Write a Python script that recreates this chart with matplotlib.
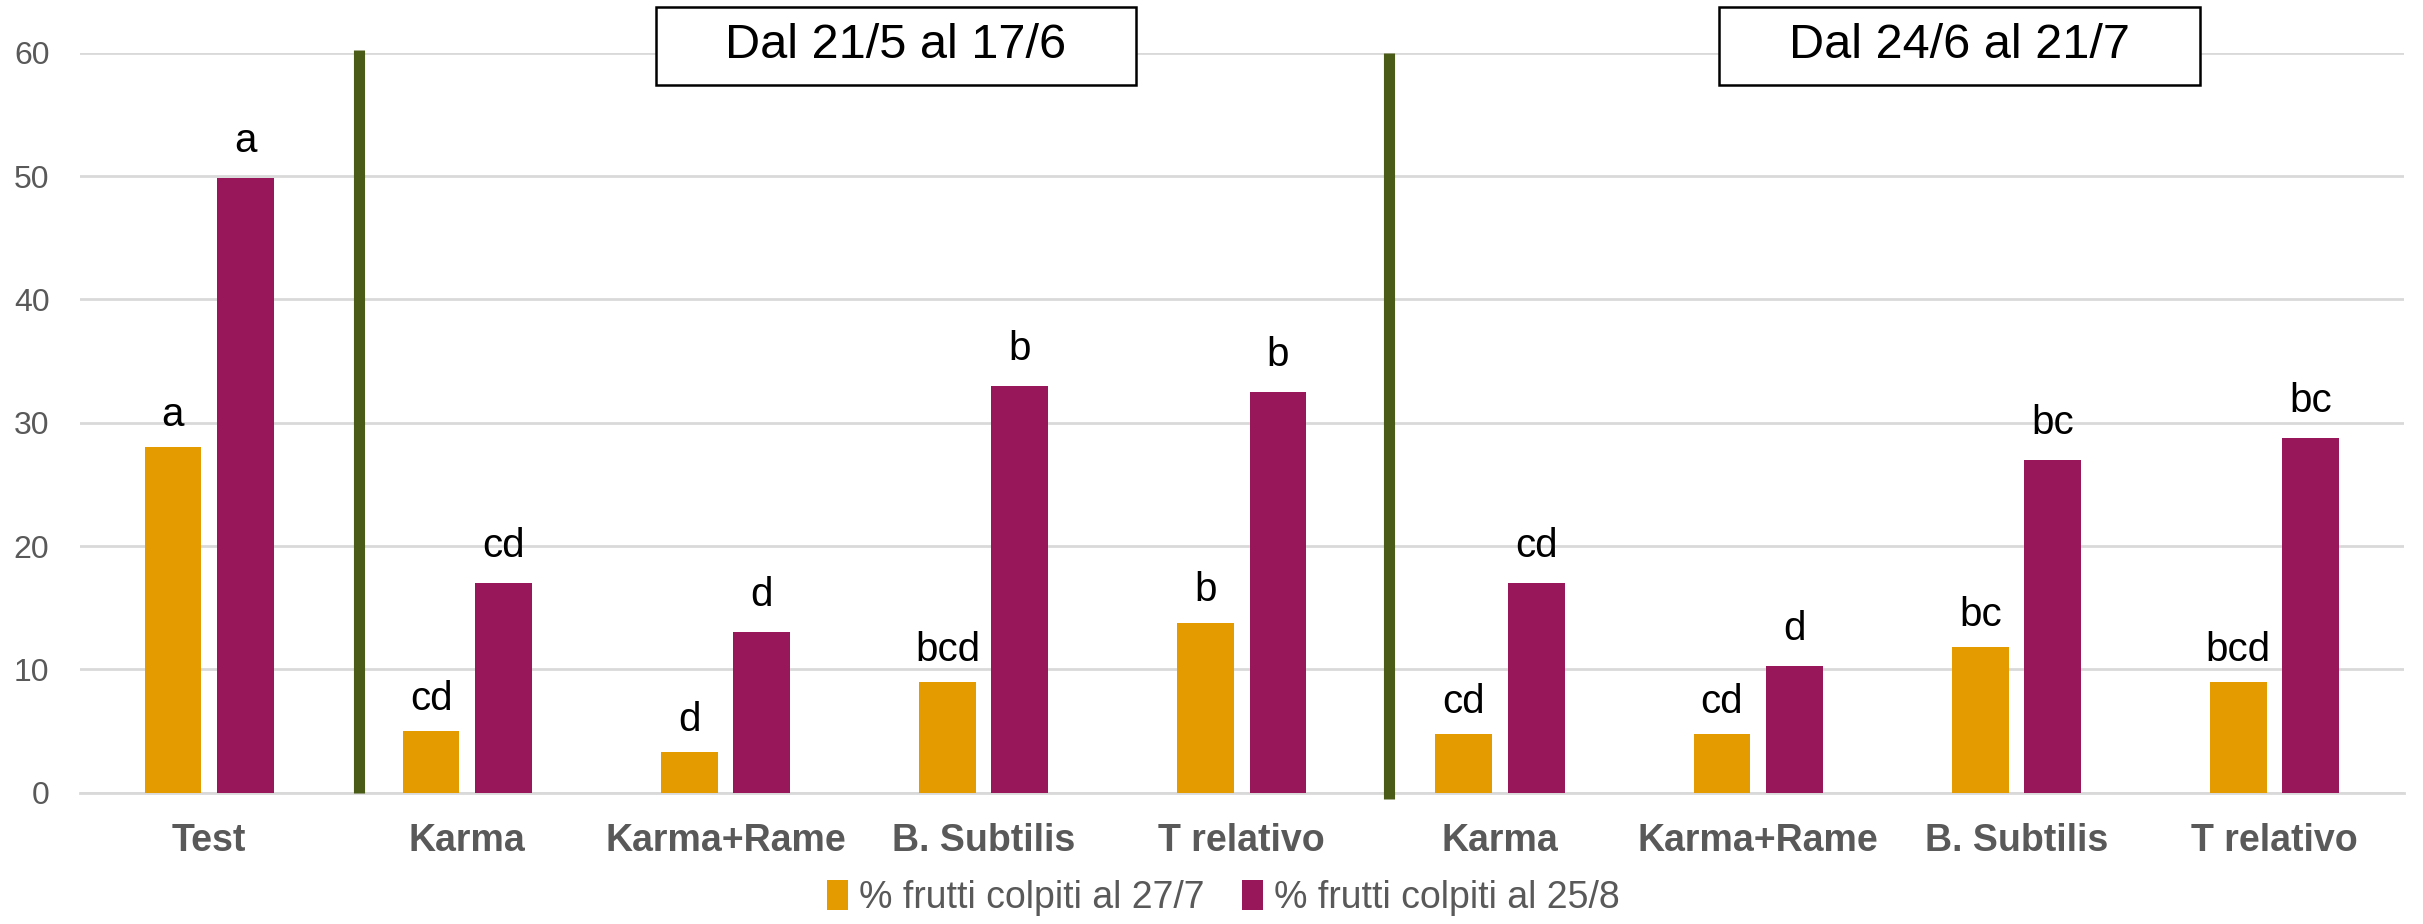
import matplotlib.pyplot as plt
import numpy as np
from matplotlib.patches import Rectangle

plt.rcParams['font.family'] = ['Liberation Sans', 'DejaVu Sans']

categories = ['Test', 'Karma', 'Karma+Rame', 'B. Subtilis', 'T relativo',
              'Karma', 'Karma+Rame', 'B. Subtilis', 'T relativo']
colpiti_27_7 = [28.0, 5.0, 3.3, 9.0, 13.8, 4.8, 4.8, 11.8, 9.0]
colpiti_25_8 = [49.8, 17.0, 13.0, 33.0, 32.5, 17.0, 10.3, 27.0, 28.8]
lettere_27_7 = ['a', 'cd', 'd', 'bcd', 'b', 'cd', 'cd', 'bc', 'bcd']
lettere_25_8 = ['a', 'cd', 'd', 'b', 'b', 'cd', 'd', 'bc', 'bc']
periodi = ['Dal 21/5 al 17/6', 'Dal 24/6 al 21/7']

orange = '#E39B00'
purple = '#98175B'
green = '#4A5B18'
grey = '#595959'

fig = plt.figure(figsize=(24.23, 9.24), dpi=100)
ax = fig.add_axes([0.033, 0.142, 0.959, 0.801])

x = np.arange(len(categories))
w = 0.22
off = 0.14
b1 = ax.bar(x - off, colpiti_27_7, w, color=orange, label='% frutti colpiti al 27/7', zorder=3)
b2 = ax.bar(x + off, colpiti_25_8, w, color=purple, label='% frutti colpiti al 25/8', zorder=3)

# significance letters above the bars
for xi, v, t in zip(x - off, colpiti_27_7, lettere_27_7):
    ax.text(xi, v + 2.6, t, ha='center', va='center', fontsize=29, color='black')
for xi, v, t in zip(x + off, colpiti_25_8, lettere_25_8):
    ax.text(xi, v + 3.0, t, ha='center', va='center', fontsize=29, color='black')

# separators between treatment periods
ax.vlines(0.58, 0, 60.2, color=green, lw=8, zorder=4, clip_on=False)
ax.vlines(4.57, -0.5, 60.0, color=green, lw=8, zorder=4, clip_on=False)

# period boxes
for cx, lab in zip([2.66, 6.78], periodi):
    ax.add_patch(Rectangle((cx - 0.93, 57.4), 1.86, 6.3, facecolor='white',
                           edgecolor='black', lw=1.8, zorder=5, clip_on=False))
    ax.text(cx, 60.55, lab, ha='center', va='center', fontsize=35, zorder=6)

ax.set_xlim(-0.5, len(categories) - 0.5)
ax.set_ylim(0, 60)
ax.set_yticks(range(0, 61, 10))
ax.yaxis.grid(True, color='#D9D9D9', lw=2, zorder=0)
ax.set_axisbelow(True)
for s in ['top', 'right', 'left']:
    ax.spines[s].set_visible(False)
ax.spines['bottom'].set_color('#D9D9D9')
ax.spines['bottom'].set_linewidth(2)

ax.set_xticks(x)
ax.set_xticklabels(categories, fontsize=27, fontweight='bold', color=grey)
ax.tick_params(axis='x', length=0, pad=22)
ax.tick_params(axis='y', length=0, labelsize=23, labelcolor=grey, pad=22)

fig.legend(handles=[b1, b2], loc='center', bbox_to_anchor=(0.505, 0.028), ncol=2,
           frameon=False, fontsize=27, labelcolor=grey, handlelength=0.55,
           handleheight=0.85, handletextpad=0.3, columnspacing=1.0)

fig.savefig('out.png', dpi=100)
